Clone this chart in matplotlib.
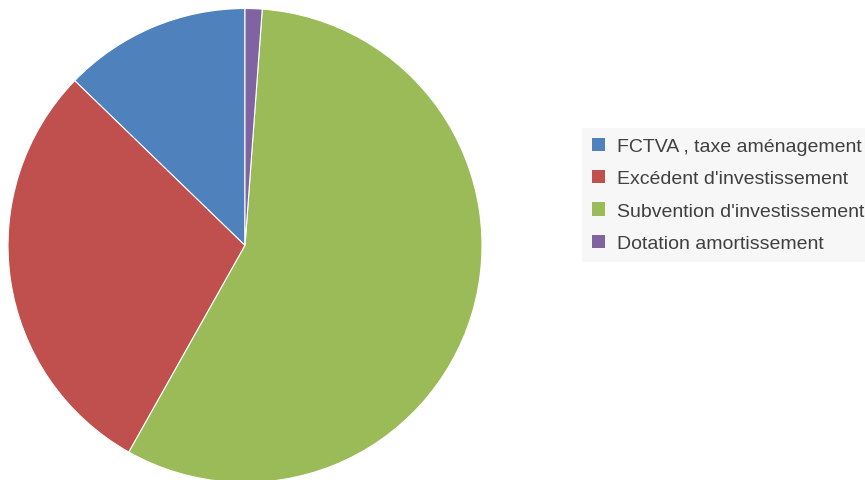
import matplotlib
matplotlib.use("Agg")
import matplotlib.pyplot as plt
from matplotlib.patches import Patch

labels = ["FCTVA , taxe aménagement", "Excédent d'investissement",
          "Subvention d'investissement", "Dotation amortissement"]
values = [12.76, 29.09, 56.99, 1.16]
colors = ["#4F81BD", "#C0504D", "#9BBB59", "#8064A2"]

plt.rcParams['font.family'] = ['Liberation Sans', 'DejaVu Sans']

fig = plt.figure(figsize=(8.65, 4.81), dpi=100)
ax = fig.add_axes([0, 0, 1, 1])

ax.pie(values, colors=colors, startangle=90, counterclock=True,
       radius=237, center=(0, 0), frame=True,
       wedgeprops=dict(edgecolor='white', linewidth=0.8))
ax.set_xlim(-245, 620)
ax.set_ylim(-(481 - 246.5), 246.5)
ax.set_aspect('equal')
ax.axis('off')

handles = [Patch(facecolor=c, edgecolor='none') for c in colors]
leg = fig.legend(handles, labels, loc='upper left',
                 bbox_to_anchor=(582 / 865, 1 - 129 / 481),
                 borderaxespad=0,
                 frameon=True, fontsize=14, handlelength=0.68, handleheight=0.68,
                 handletextpad=0.64, labelspacing=0.76, borderpad=0.5,
                 labelcolor='#404040')
leg.get_frame().set_facecolor('#f5f5f5')
leg.get_frame().set_edgecolor('none')
leg.get_frame().set_boxstyle('square', pad=0)

fig.savefig("out.png", dpi=100, facecolor='white')
